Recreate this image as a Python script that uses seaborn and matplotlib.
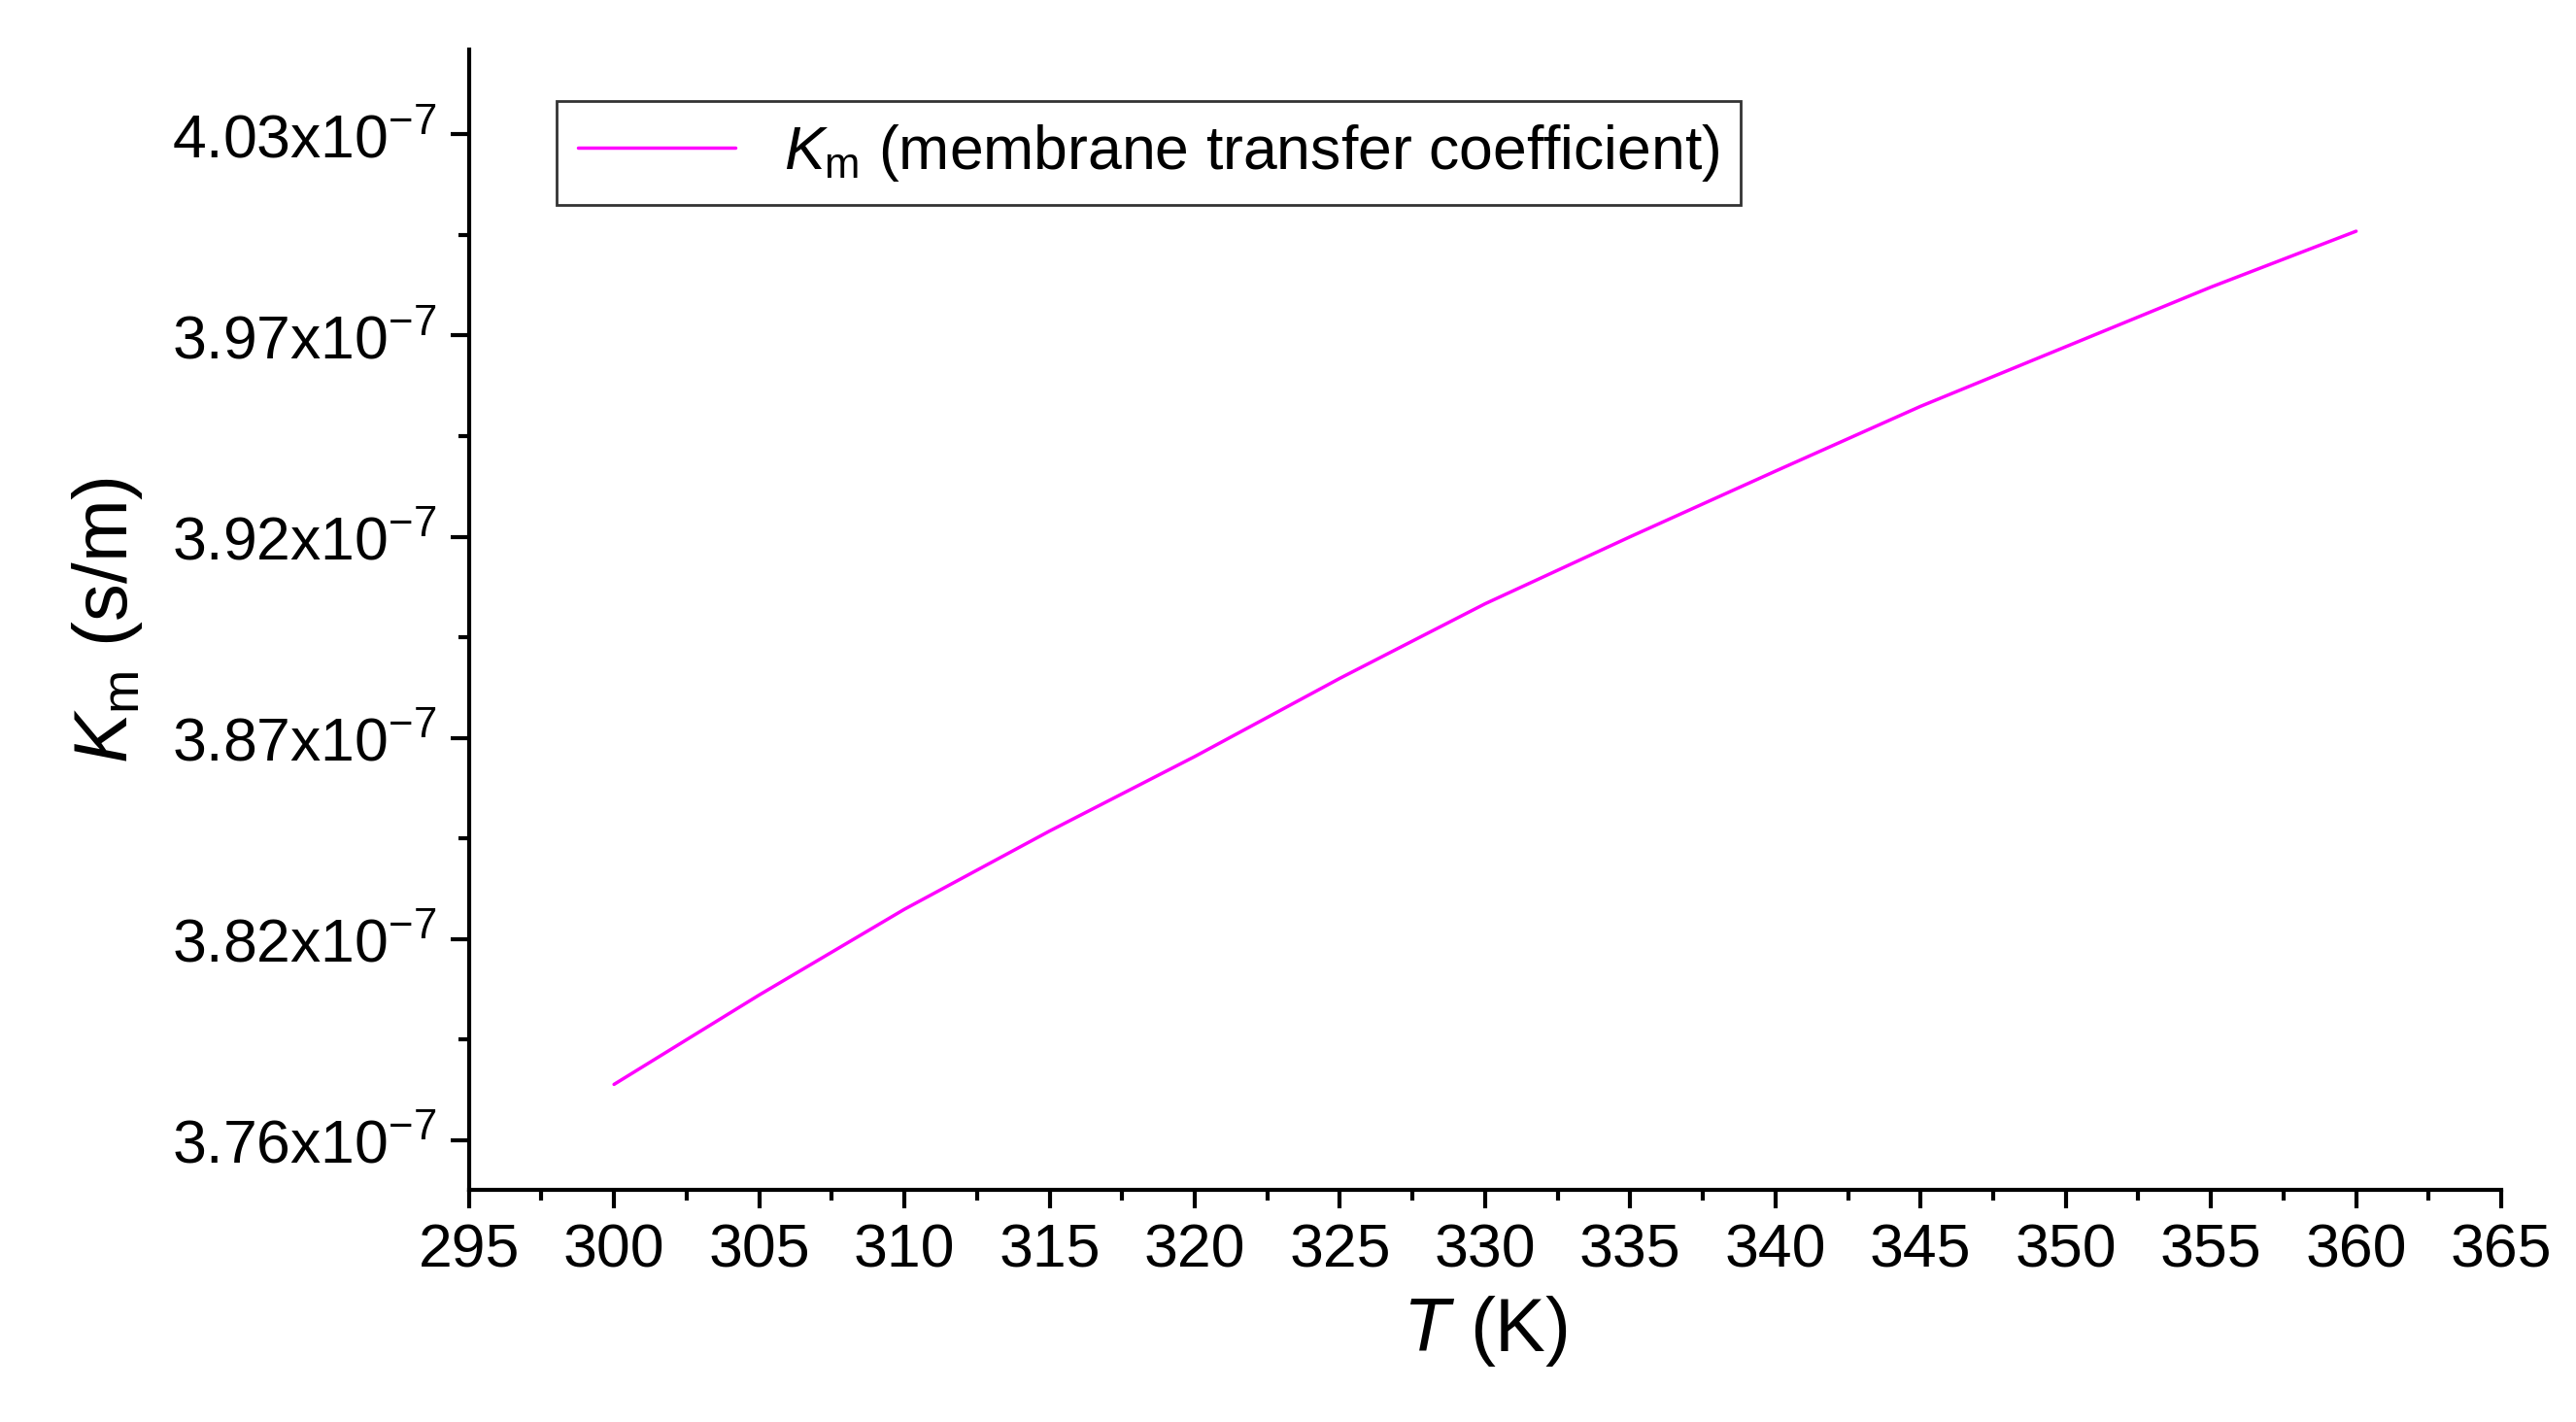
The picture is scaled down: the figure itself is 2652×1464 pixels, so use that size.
import matplotlib
matplotlib.use("Agg")
import matplotlib.pyplot as plt
import seaborn as sns
import numpy as np

T = [300, 305, 310, 315, 320, 325, 330, 335, 340, 345, 350, 355, 360]
Km = [3.775, 3.799, 3.822, 3.843, 3.863, 3.884, 3.904, 3.922, 3.9396, 3.957, 3.973, 3.989, 4.004]
ytick_pos = [3.76, 3.814, 3.868, 3.922, 3.976, 4.030]
ytick_labels = ["3.76", "3.82", "3.87", "3.92", "3.97", "4.03"]
xticks = list(range(295, 370, 5))

sns.set_theme(style="ticks")
plt.rcParams['font.family'] = ['Liberation Sans', 'DejaVu Sans']
plt.rcParams['mathtext.fontset'] = 'custom'
plt.rcParams['mathtext.rm'] = 'Liberation Sans'
plt.rcParams['mathtext.it'] = 'Liberation Sans:italic'
plt.rcParams['text.color'] = 'black'
plt.rcParams['axes.labelcolor'] = 'black'
plt.rcParams['xtick.color'] = 'black'
plt.rcParams['ytick.color'] = 'black'
plt.rcParams['axes.edgecolor'] = 'black'

fig = plt.figure(figsize=(26.52, 14.64), dpi=100)
ax = fig.add_axes([0.182, 0.163, 0.789, 0.802])
sns.lineplot(x=T, y=Km, ax=ax, color="#ff00ff", lw=2.5,
             label=r"$K_{\rm m}$ (membrane transfer coefficient)")
ax.set_xlim(295, 365)
ax.set_ylim(3.7466, 4.0527)
ax.set_xticks(xticks)
ax.set_xticks(np.arange(297.5, 365, 5), minor=True)
ax.set_yticks(ytick_pos)
ax.set_yticklabels([l + r"x10$^{-7}$" for l in ytick_labels])
ax.set_yticks([p + 0.027 for p in ytick_pos[:-1]], minor=True)
for s in ["top", "right"]:
    ax.spines[s].set_visible(False)
for s in ["left", "bottom"]:
    ax.spines[s].set_linewidth(3)
ax.tick_params(which="major", length=14, width=3, labelsize=45, direction="out", pad=10)
ax.tick_params(which="minor", length=8, width=3, direction="out")
ax.set_xlabel(r"$T$ (K)", fontsize=56, labelpad=10)
ax.set_ylabel(r"$K_{\rm m}$ (s/m)", fontsize=56, labelpad=20)
leg = ax.legend(loc="upper left", bbox_to_anchor=(0.043, 0.955), borderaxespad=0,
                fontsize=45, frameon=True, fancybox=False, edgecolor="black",
                handlelength=2.6, borderpad=0.35)
leg.get_frame().set_linewidth(2)
fig.savefig("out.png", dpi=100)
